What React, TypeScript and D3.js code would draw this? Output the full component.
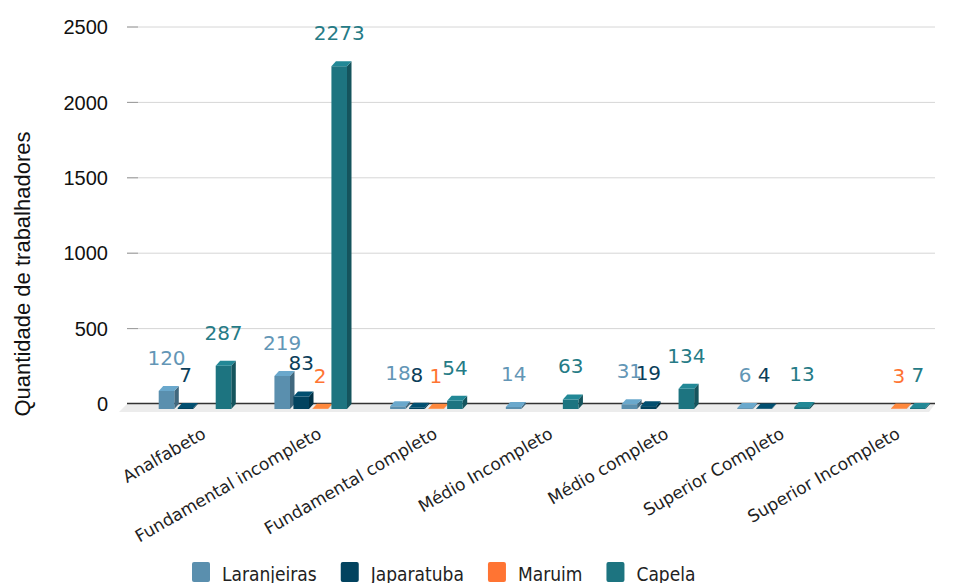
import React, { useEffect, useRef } from 'react'
import * as d3 from 'd3'

const categories = [
  'Analfabeto',
  'Fundamental incompleto',
  'Fundamental completo',
  'Médio Incompleto',
  'Médio completo',
  'Superior Completo',
  'Superior Incompleto',
]
const seriesNames = ['Laranjeiras', 'Japaratuba', 'Maruim', 'Capela']
const laranjeiras = [120, 219, 18, 14, 31, 6, null]
const japaratuba = [7, 83, 8, null, 19, 4, null]
const maruim = [null, 2, 1, null, null, null, 3]
const capela = [287, 2273, 54, 63, 134, 13, 7]
const yTicks = [0, 500, 1000, 1500, 2000, 2500]

const barColors = ['#5a8fae', '#02435f', '#ff7433', '#1d7480']
const labelColors = ['#6396b6', '#0b3e5a', '#ff7433', '#257b86']

const W = 956
const H = 583

const App: React.FC = () => {
  const svgRef = useRef<SVGSVGElement>(null)

  useEffect(() => {
    const svg = d3.select(svgRef.current)
    svg.selectAll('*').remove()

    const plotLeft = 125
    const plotRight = 935
    const depthX = 4.5
    const depthY = -5

    const values = [laranjeiras, japaratuba, maruim, capela]

    const x0 = d3.scaleBand<string>().domain(categories).range([plotLeft, plotRight])
    const x1 = d3
      .scaleBand<string>()
      .domain(seriesNames)
      .range([32, 108])
      .paddingInner(0.18)
      .paddingOuter(0.09)
    // back wall scale (gridlines) and front face scale (bars)
    const yBack = d3.scaleLinear().domain([0, 2500]).range([404, 27])
    const yFront = d3.scaleLinear().domain([0, 2500]).range([409, 32])

    // gridlines + ticks
    const grid = svg.append('g')
    yTicks.forEach((t) => {
      grid
        .append('line')
        .attr('x1', 127)
        .attr('x2', plotRight)
        .attr('y1', yBack(t))
        .attr('y2', yBack(t))
        .attr('stroke', t === 0 ? 'none' : '#d6d6d6')
        .attr('stroke-width', 1)
      grid
        .append('line')
        .attr('x1', 127)
        .attr('x2', 138)
        .attr('y1', yBack(t))
        .attr('y2', yBack(t))
        .attr('stroke', '#9a9a9a')
      grid
        .append('text')
        .attr('x', 108)
        .attr('y', yBack(t))
        .attr('dy', '0.36em')
        .attr('text-anchor', 'end')
        .style('font-family', '"Liberation Sans", Arial, sans-serif')
        .style('font-size', '20px')
        .attr('fill', '#111')
        .text(t)
    })

    // floor
    const z = yBack(0)
    svg
      .append('polygon')
      .attr(
        'points',
        [
          [plotLeft + 2, z],
          [plotRight, z],
          [plotRight - 6, z + 8],
          [plotLeft - 6, z + 8],
        ]
          .map((p) => p.join(','))
          .join(' '),
      )
      .attr('fill', '#ececec')
    svg
      .append('line')
      .attr('x1', 127)
      .attr('x2', plotRight)
      .attr('y1', z - 0.5)
      .attr('y2', z - 0.5)
      .attr('stroke', '#333')
      .attr('stroke-width', 1.5)

    // bars
    const barsG = svg.append('g')
    seriesNames.forEach((s, j) => {
      const base = d3.color(barColors[j])!
      const side = base.darker(0.9).formatHex()
      const top = base.brighter(0.45).formatHex()
      categories.forEach((c, i) => {
        const v = values[j][i]
        if (v == null) return
        const x = (x0(c) as number) + (x1(s) as number)
        const w = x1.bandwidth()
        const yt = yFront(v)
        const yb = yFront(0)
        barsG
          .append('polygon')
          .attr(
            'points',
            `${x + w},${yb} ${x + w + depthX},${yb + depthY} ${x + w + depthX},${yt + depthY} ${x + w},${yt}`,
          )
          .attr('fill', side)
        barsG
          .append('rect')
          .attr('x', x)
          .attr('y', yt)
          .attr('width', w)
          .attr('height', yb - yt)
          .attr('fill', barColors[j])
        barsG
          .append('polygon')
          .attr(
            'points',
            `${x},${yt} ${x + depthX},${yt + depthY} ${x + w + depthX},${yt + depthY} ${x + w},${yt}`,
          )
          .attr('fill', top)
      })
    })

    // value labels
    const labelsG = svg.append('g')
    seriesNames.forEach((s, j) => {
      categories.forEach((c, i) => {
        const v = values[j][i]
        if (v == null) return
        const x = (x0(c) as number) + (x1(s) as number) + x1.bandwidth() / 2
        labelsG
          .append('text')
          .attr('x', x)
          .attr('y', yFront(v) - 26)
          .attr('text-anchor', 'middle')
          .style('font-family', '"DejaVu Sans", Verdana, sans-serif')
          .style('font-size', '20px')
          .attr('fill', labelColors[j])
          .text(v)
      })
    })

    // category labels
    const catG = svg.append('g')
    categories.forEach((c) => {
      const ax = (x0(c) as number) + 82
      const ay = 437
      catG
        .append('text')
        .attr('transform', `translate(${ax},${ay}) rotate(-30)`)
        .attr('text-anchor', 'end')
        .style('font-family', '"DejaVu Sans", Verdana, sans-serif')
        .style('font-size', '17px')
        .attr('fill', '#222')
        .text(c)
    })

    // y title
    svg
      .append('text')
      .attr('transform', `translate(30,274) rotate(-90)`)
      .attr('text-anchor', 'middle')
      .style('font-family', '"Liberation Sans", Arial, sans-serif')
      .style('font-size', '22px')
      .attr('fill', '#111')
      .text('Quantidade de trabalhadores')

    // legend
    const legend = svg.append('g')
    let lx = 192
    seriesNames.forEach((s, j) => {
      legend
        .append('rect')
        .attr('x', lx)
        .attr('y', 562)
        .attr('width', 18)
        .attr('height', 20)
        .attr('rx', 2)
        .attr('fill', barColors[j])
      const t = legend
        .append('text')
        .attr('x', lx + 30)
        .attr('y', 581)
        .style('font-family', '"DejaVu Sans Condensed", "DejaVu Sans", sans-serif')
        .style('font-stretch', 'condensed')
        .style('font-size', '19px')
        .attr('fill', '#222')
        .text(s)
      const tw = (t.node() as SVGTextElement).getComputedTextLength()
      lx += 30 + tw + 24
    })
  }, [])

  return (
    <svg
      ref={svgRef}
      width={W}
      height={H}
      style={{ position: 'absolute', left: 0, top: 0, background: '#fff' }}
    />
  )
}

export default App
